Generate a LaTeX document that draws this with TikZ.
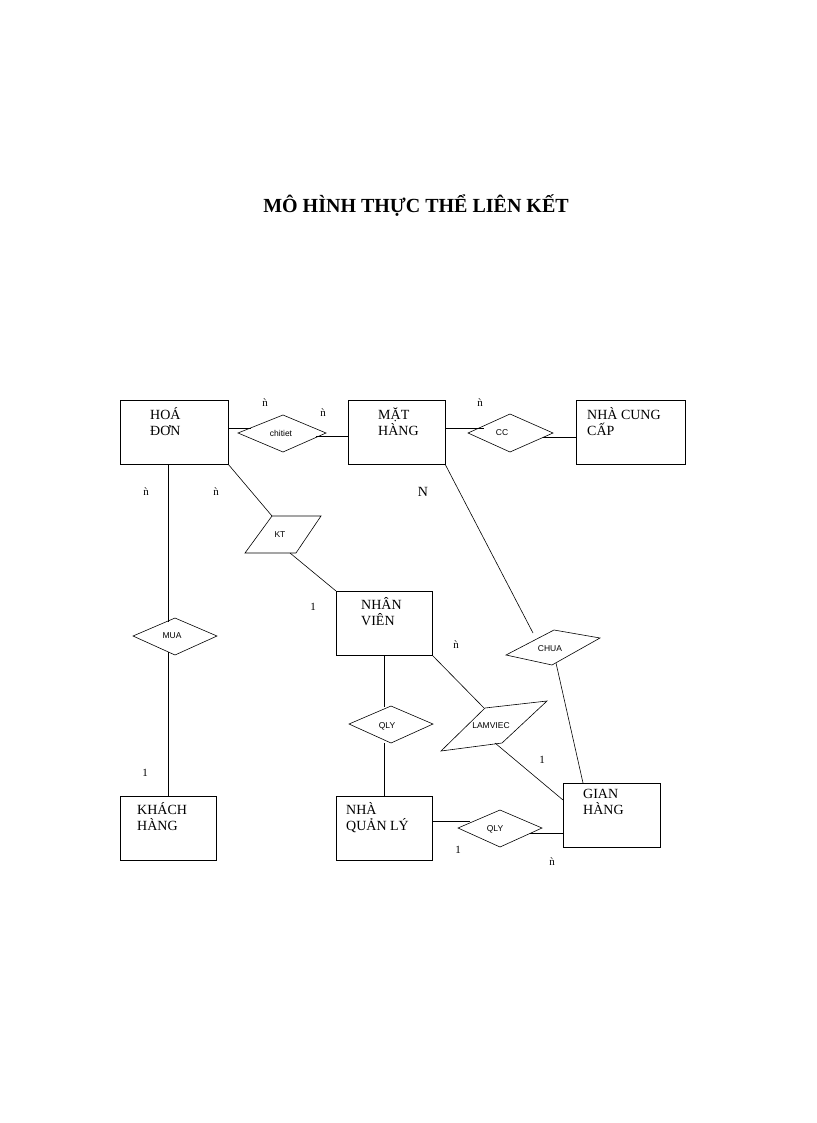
\documentclass[tikz,border=0pt]{standalone}
\usepackage{fontspec}
\setmainfont{Liberation Serif}
\setsansfont{Liberation Sans}
\begin{document}
\begin{tikzpicture}[x=1pt,y=-1pt,
 ent/.style={draw,line width=0.8pt},
 etxt/.style={anchor=north west,align=left,font=\fontsize{14}{16}\selectfont,inner sep=0pt},
 rel/.style={draw,line width=0.6pt},
 rtxt/.style={font=\sffamily\fontsize{8.5}{10}\selectfont,inner sep=0pt},
 card/.style={font=\fontsize{11}{12}\selectfont,inner sep=0pt},
 ln/.style={line width=0.6pt}]
\useasboundingbox (0,0) rectangle (816,1123);
\node[font=\bfseries\fontsize{20}{24}\selectfont] (title) at (416,206) {MÔ HÌNH THỰC THỂ LIÊN KẾT};
% entities
\draw[ent] (120,400) rectangle (228,464); \node[etxt] (hd) at (150,407) {HOÁ\\ĐƠN};
\draw[ent] (348,400) rectangle (445,464); \node[etxt] (mh) at (378,407) {MẶT\\HÀNG};
\draw[ent] (576,400) rectangle (685,464); \node[etxt] (ncc) at (587,407) {NHÀ CUNG\\CẤP};
\draw[ent] (336,591) rectangle (432,655); \node[etxt] (nv) at (361,597) {NHÂN\\VIÊN};
\draw[ent] (120,796) rectangle (216,860); \node[etxt] (kh) at (137,802) {KHÁCH\\HÀNG};
\draw[ent] (336,796) rectangle (432,860); \node[etxt] (nql) at (346,802) {NHÀ\\QUẢN LÝ};
\draw[ent] (563,783) rectangle (660,847); \node[etxt] (gh) at (583,789) {GIAN\\HÀNG};
% relationships
\draw[rel] (238,433)--(283,415)--(326,433)--(283,452)--cycle; \node[rtxt] (ct) at (281,433) {chitiet};
\draw[rel] (468,433)--(510,414)--(553,433)--(510,452)--cycle; \node[rtxt] (cc) at (502,433) {CC};
\draw[rel] (272,516)--(321,516)--(296,553)--(245,553)--cycle; \node[rtxt] (kt) at (280,535) {KT};
\draw[rel] (133,636)--(175,618)--(217,636)--(175,655)--cycle; \node[rtxt] (mua) at (172,636) {MUA};
\draw[rel] (506,655)--(554,630)--(600,638)--(552,665)--cycle; \node[rtxt] (chua) at (550,649) {CHUA};
\draw[rel] (349,724)--(391,706)--(433,724)--(391,743)--cycle; \node[rtxt] (qly1) at (387,726) {QLY};
\draw[rel] (441,751)--(485,708)--(547,701)--(502,743)--cycle; \node[rtxt] (lv) at (491,726) {LAMVIEC};
\draw[rel] (458,828)--(500,810)--(542,828)--(500,847)--cycle; \node[rtxt] (qly2) at (495,829) {QLY};
% connectors
\draw[ln] (228,428)--(251,428); \draw[ln] (316,436)--(348,436);
\draw[ln] (445,428)--(484,428); \draw[ln] (543,437)--(576,437);
\draw[ln] (228,464)--(272,516); \draw[ln] (290,553)--(336,591);
\draw[ln] (168,464)--(168,622); \draw[ln] (168,652)--(168,796);
\draw[ln] (445,464)--(533,633); \draw[ln] (556,663)--(583,783);
\draw[ln] (384,655)--(384,707); \draw[ln] (384,743)--(384,796);
\draw[ln] (432,655)--(484,708); \draw[ln] (495,743)--(563,800);
\draw[ln] (432,821)--(470,821); \draw[ln] (530,833)--(563,833);
% cardinalities
\node[card] at (265,403) {ǹ}; \node[card] at (323,413) {ǹ}; \node[card] at (480,403) {ǹ};
\node[card] at (146,492) {ǹ}; \node[card] at (216,492) {ǹ};
\node[font=\fontsize{14}{16}\selectfont] at (423,492) {N};
\node[card] at (313,607) {1}; \node[card] at (456,645) {ǹ};
\node[card] at (145,773) {1}; \node[card] at (542,760) {1};
\node[card] at (458,850) {1}; \node[card] at (552,862) {ǹ};
\end{tikzpicture}
\end{document}
